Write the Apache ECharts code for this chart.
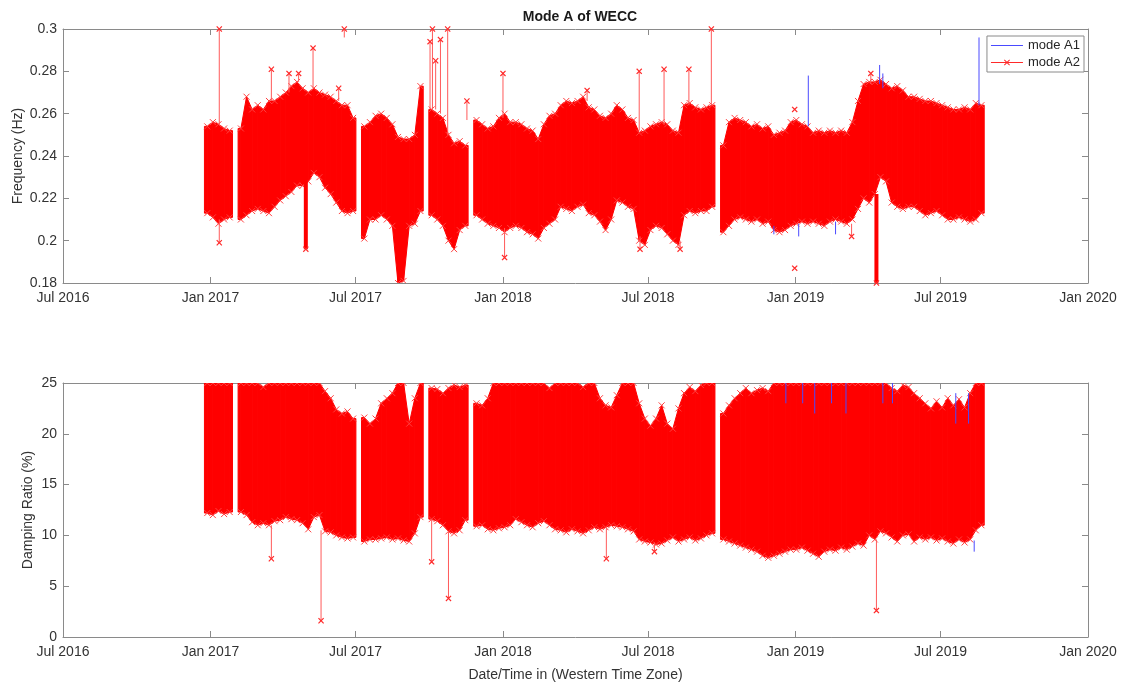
<!DOCTYPE html>
<html>
<head>
<meta charset="utf-8">
<title>Mode A of WECC</title>
<script src="https://cdn.jsdelivr.net/npm/echarts@6/dist/echarts.min.js"></script>
<style>
html,body{margin:0;padding:0;background:#fff;}
#chart{width:1124px;height:684px;}
</style>
</head>
<body>
<div id="chart"></div>
<script>
// weekly bins, first bin on 2016-12-28
var binStart = '2016-12-28';
var binDays = 7;

// mode A2 frequency envelope (Hz), null = no data
var freqHi = [0.254,0.256,0.255,0.253,0.252,null,0.253,0.268,0.262,0.264,0.262,0.266,0.266,0.268,0.270,0.273,0.275,0.272,0.270,0.272,
  0.270,0.269,0.268,0.266,0.264,0.264,0.258,null,0.254,0.256,0.259,0.260,0.258,0.255,0.249,0.248,0.248,0.250,0.273,null,
  0.262,0.260,0.258,0.250,0.246,0.247,0.245,null,0.257,0.255,0.253,0.254,0.258,0.260,0.256,0.256,0.255,0.253,0.252,0.248,
  0.255,0.259,0.260,0.264,0.266,0.265,0.266,0.268,0.263,0.262,0.259,0.258,0.260,0.264,0.262,0.258,0.257,0.251,0.252,0.254,
  0.255,0.256,0.255,0.252,0.251,0.264,0.265,0.263,0.262,0.263,0.264,null,0.245,0.256,0.258,0.257,0.256,0.254,0.255,0.253,
  0.254,0.250,0.251,0.252,0.256,0.257,0.255,0.254,0.251,0.252,0.251,0.252,0.251,0.252,0.251,0.256,0.266,0.274,0.275,0.275,
  0.276,0.274,0.272,0.273,0.271,0.268,0.268,0.267,0.266,0.266,0.265,0.264,0.263,0.262,0.262,0.263,0.262,0.265,0.264];
var freqLo = [0.213,0.211,0.208,0.210,0.211,null,0.210,0.212,0.214,0.215,0.214,0.213,0.216,0.219,0.221,0.223,0.226,0.226,0.228,0.232,
  0.230,0.225,0.222,0.218,0.214,0.213,0.214,null,0.201,0.210,0.210,0.212,0.210,0.207,0.180,0.181,0.207,0.208,0.214,null,
  0.212,0.210,0.207,0.200,0.196,0.205,0.207,null,0.212,0.210,0.208,0.207,0.206,0.204,0.206,0.207,0.206,0.204,0.203,0.201,
  0.206,0.208,0.210,0.216,0.215,0.214,0.216,0.217,0.213,0.212,0.209,0.205,0.210,0.219,0.218,0.216,0.215,0.200,0.198,0.205,
  0.207,0.206,0.203,0.200,0.198,0.212,0.214,0.213,0.214,0.214,0.216,null,0.204,0.207,0.210,0.211,0.210,0.209,0.210,0.208,
  0.209,0.205,0.204,0.205,0.207,0.208,0.209,0.208,0.209,0.208,0.207,0.209,0.210,0.209,0.208,0.210,0.215,0.220,0.218,0.222,
  0.230,0.228,0.218,0.216,0.215,0.216,0.216,0.214,0.212,0.213,0.214,0.212,0.210,0.210,0.211,0.210,0.209,0.210,0.213];

// mode A2 damping ratio envelope (%)
var dampHi = [25,25,25,25,25,null,25,25,25,25,24.6,25,25,25,25,25,25,25,25,25,
  25,24.2,23.5,22.4,22.0,22.2,21.5,null,21.6,21.0,21.5,23.0,23.5,24.0,25,25,21.0,23.5,25,null,
  24.5,24.4,24.0,24.5,24.8,24.6,24.8,null,23.0,22.8,23.5,25,25,25,25,25,25,25,25,25,
  25,24.5,25,25,25,25,25,24.6,25,25,23.5,22.8,22.6,23.8,25,25,25,23.0,21.5,20.8,
  21.5,22.8,21.0,20.5,22.5,24.0,24.6,24.2,24.8,25,25,null,22.0,22.8,23.5,24.0,24.5,24.0,24.3,24.5,
  24.2,25,25,25,25,25,25,25,25,25,25,25,25,25,25,25,25,25,25,25,
  25,25,24.5,24.2,24.8,24.6,24.0,23.5,23.0,22.5,23.2,22.6,23.5,22.8,23.4,22.6,24.0,25,25];
var dampLo = [12.2,12.0,12.4,12.1,12.3,null,12.3,12.0,11.3,11.0,11.2,11.0,11.4,11.5,11.8,11.6,11.5,11.2,10.6,11.8,
  12.0,10.4,10.3,10.0,9.8,9.7,9.8,null,9.4,9.6,9.6,9.7,9.8,9.6,9.7,9.5,9.4,10.2,11.8,null,
  11.6,11.4,11.0,10.4,10.2,10.5,11.5,null,10.9,11.0,10.6,10.5,10.7,10.8,11.0,11.6,11.3,11.0,10.8,11.2,
  11.4,11.0,10.6,10.5,10.3,10.6,10.4,10.2,10.5,10.8,10.6,10.8,11.0,10.9,10.8,10.6,10.4,9.6,9.4,9.3,
  9.1,9.2,9.5,9.8,9.4,9.6,9.8,9.5,9.7,10.0,10.2,null,9.6,9.4,9.2,9.0,8.8,8.6,8.4,8.0,
  7.8,8.0,8.2,8.4,8.6,8.6,8.8,8.5,8.2,7.9,8.4,8.6,8.5,8.8,8.6,8.9,9.2,9.0,10.0,9.6,
  10.4,10.2,9.8,9.4,10.0,10.1,9.4,9.8,9.6,9.8,9.5,9.7,9.4,9.2,9.6,9.3,9.6,10.5,11.0];

// mode A2 outliers: date, edge of band, value reached
var freqSpikeDates = ['2017-01-12','2017-01-12','2017-03-18','2017-04-09','2017-04-21','2017-05-09','2017-06-10','2017-06-17',
  '2017-10-02','2017-10-05','2017-10-09','2017-10-15','2017-10-24','2017-11-17','2018-01-01','2018-01-03','2018-04-16',
  '2018-06-20','2018-06-21','2018-07-21','2018-08-10','2018-08-21','2018-09-18','2018-12-31','2018-12-31','2019-03-12','2019-04-05'];
var freqSpikeFrom = [0.255,0.210,0.266,0.270,0.275,0.272,0.266,0.296,
  0.262,0.262,0.262,0.260,0.250,0.257,0.258,0.206,0.266,
  0.252,0.202,0.255,0.200,0.264,0.264,0.187,0.262,0.208,0.274];
var freqSpikeTo = [0.300,0.199,0.281,0.279,0.279,0.291,0.272,0.300,
  0.294,0.300,0.285,0.295,0.300,0.266,0.279,0.192,0.271,
  0.280,0.196,0.281,0.196,0.281,0.300,0.187,0.262,0.202,0.279];
// short dense drops, drawn as narrow columns
var freqBurstDates = ['2017-04-30','2019-04-12'];
var freqBurstFrom = [0.232,0.222];
var freqBurstTo = [0.196,0.180];
var dampSpikeDates = ['2017-03-18','2017-05-19','2017-10-04','2017-10-25','2018-05-10','2018-07-09','2019-04-12'];
var dampSpikeFrom = [11.0,10.5,11.6,10.4,10.8,9.3,9.6];
var dampSpikeTo = [7.7,1.6,7.4,3.8,7.7,8.4,2.6];

// mode A1 where it shows past mode A2
var a1FreqDates = ['2018-12-05','2019-01-05','2019-01-17','2019-02-20','2019-04-16','2019-04-20','2019-08-18'];
var a1FreqFrom = [0.207,0.208,0.254,0.209,0.274,0.272,0.264];
var a1FreqTo = [0.203,0.202,0.278,0.203,0.283,0.279,0.296];
var a1DampDates = ['2018-12-20','2019-01-10','2019-01-25','2019-02-15','2019-03-05','2019-04-20','2019-05-02','2019-07-20','2019-08-05','2019-08-12'];
var a1DampFrom = [23,23,22,23,22,23,23,21,21,9.5];
var a1DampTo = [25,25,25,25,25,25,25,24,24,8.4];

var tickDates = ['2016-07-01','2017-01-01','2017-07-01','2018-01-01','2018-07-01','2019-01-01','2019-07-01','2020-01-01'];
var monthNames = ['Jan','Feb','Mar','Apr','May','Jun','Jul','Aug','Sep','Oct','Nov','Dec'];

function ts(s) {
    var p = s.split('-');
    return new Date(+p[0], +p[1] - 1, +p[2]).getTime();
}
var DAY = 86400000;
var xMin = ts(tickDates[0]), xMax = ts(tickDates[tickDates.length - 1]);
var ticks = tickDates.map(ts);

function bandData(hi, lo) {
    var t0 = ts(binStart), out = [];
    for (var i = 0; i < hi.length; i++) {
        if (hi[i] == null) continue;
        var hasPrev = i > 0 && hi[i - 1] != null ? 1 : 0;
        var hasNext = i < hi.length - 1 && hi[i + 1] != null ? 1 : 0;
        var t = t0 + i * binDays * DAY;
        out.push([t, lo[i], hi[i], t + binDays * DAY,
            hasNext ? lo[i + 1] : lo[i], hasNext ? hi[i + 1] : hi[i], hasPrev, hasNext]);
    }
    return out;
}
function stemData(dates, from, to, withMark) {
    var out = [];
    for (var i = 0; i < dates.length; i++) {
        var t = ts(dates[i]);
        out.push({value: [t, from[i]], symbol: 'none'});
        out.push(withMark ? {value: [t, to[i]]} : {value: [t, to[i]], symbol: 'none'});
        out.push({value: [t, '-'], symbol: 'none'});
    }
    return out;
}

var xShape = 'path://M0,1.4L1.4,0L5,3.6L8.6,0L10,1.4L6.4,5L10,8.6L8.6,10L5,6.4L1.4,10L0,8.6L3.6,5Z';
// legend icons, drawn in a 32x8 box
var iconA1 = 'path://M0,3.5L32,3.5L32,4.5L0,4.5Z';
var iconA2 = 'path://M0,3.5L32,3.5L32,4.5L0,4.5Z M13,1.7L13.7,1L16,3.3L18.3,1L19,1.7L16.7,4L19,6.3L18.3,7L16,4.7L13.7,7L13,6.3L15.3,4Z';

function xMark(p, out) {
    var s = 3, st = {stroke: '#ff4040', lineWidth: 1};
    out.push({type: 'line', shape: {x1: p[0] - s, y1: p[1] - s, x2: p[0] + s, y2: p[1] + s}, style: st});
    out.push({type: 'line', shape: {x1: p[0] - s, y1: p[1] + s, x2: p[0] + s, y2: p[1] - s}, style: st});
}
function renderBand(params, api) {
    var t = api.value(0), lo = api.value(1), hi = api.value(2);
    var tn = api.value(3), lon = api.value(4), hin = api.value(5);
    var hasPrev = api.value(6), hasNext = api.value(7);
    var half = binDays * DAY / 2;
    var st = {fill: '#ff0000', stroke: '#ff0000', lineWidth: 1};
    var kids = [];
    var a = api.coord([t, hi]), b = api.coord([t, lo]);
    if (hasNext) {
        kids.push({type: 'polygon', shape: {points: [a, api.coord([tn, hin]), api.coord([tn, lon]), b]}, style: st});
    } else {
        kids.push({type: 'polygon', shape: {points: [a, api.coord([t + half, hi]), api.coord([t + half, lo]), b]}, style: st});
    }
    if (!hasPrev) {
        kids.push({type: 'polygon', shape: {points: [api.coord([t - half, hi]), a, b, api.coord([t - half, lo])]}, style: st});
    }
    xMark(a, kids);
    xMark(b, kids);
    return {type: 'group', children: kids};
}

var axisGray = '#8a8a8a';
var labelColor = '#333';
function xAxisDef(grid, pos, name) {
    return {
        type: 'value', gridIndex: grid, position: pos, min: xMin, max: xMax, scale: true,
        name: name || '', nameLocation: 'middle', nameGap: 31, nameMoveOverlap: false,
        nameTextStyle: {fontSize: 14, color: labelColor, fontFamily: 'Liberation Sans'},
        axisLine: {show: true, onZero: false, lineStyle: {color: axisGray}},
        axisTick: {show: true, inside: true, length: 6, customValues: ticks, lineStyle: {color: axisGray}},
        axisLabel: {
            show: pos === 'bottom', customValues: ticks, margin: 8, fontSize: 14, color: labelColor,
            fontFamily: 'Liberation Sans', showMinLabel: true, showMaxLabel: true,
            formatter: function (v) { var d = new Date(v); return monthNames[d.getMonth()] + ' ' + d.getFullYear(); }
        },
        splitLine: {show: false}
    };
}
function yAxisDef(grid, pos, min, max, step, name, gap) {
    return {
        type: 'value', gridIndex: grid, position: pos, min: min, max: max, interval: step,
        name: name || '', nameLocation: 'middle', nameGap: gap || 30, nameRotate: 90, nameMoveOverlap: false,
        nameTextStyle: {fontSize: 14, color: labelColor, fontFamily: 'Liberation Sans'},
        axisLine: {show: true, lineStyle: {color: axisGray}},
        axisTick: {show: true, inside: true, length: 6, lineStyle: {color: axisGray}},
        axisLabel: {show: pos === 'left', margin: 6, fontSize: 14, color: labelColor, fontFamily: 'Liberation Sans'},
        splitLine: {show: false}
    };
}

function stemSeries(name, xi, yi, data, color, width, mark) {
    return {
        name: name, type: 'line', xAxisIndex: xi, yAxisIndex: yi, z: mark ? 3 : 4,
        data: data, symbol: mark ? xShape : 'none', symbolSize: 6, connectNulls: false,
        lineStyle: {color: color, width: width}, itemStyle: {color: mark ? '#ff2a2a' : color}
    };
}

var myChart = echarts.init(document.getElementById('chart'));
var option = {
    animation: false,
    backgroundColor: '#fff',
    title: {
        text: 'Mode A of WECC', left: 575, top: 5, textAlign: 'center',
        textStyle: {fontSize: 14, fontWeight: 'bold', color: '#1a1a1a', fontFamily: 'Liberation Sans'}
    },
    legend: {
        data: [{name: 'mode A1', icon: iconA1}, {name: 'mode A2', icon: iconA2}],
        orient: 'vertical', right: 40, top: 36,
        backgroundColor: '#fff', borderColor: '#8a8a8a', borderWidth: 1, borderRadius: 0,
        padding: [3, 4, 3, 4], itemGap: 4, itemWidth: 32, itemHeight: 8,
        textStyle: {fontSize: 13, color: '#262626', fontFamily: 'Liberation Sans'}
    },
    grid: [
        {left: 63, right: 36, top: 29, height: 254, outerBoundsMode: 'none'},
        {left: 63, right: 36, top: 383, height: 254, outerBoundsMode: 'none'}
    ],
    xAxis: [
        xAxisDef(0, 'bottom'), xAxisDef(0, 'top'),
        xAxisDef(1, 'bottom', 'Date/Time in (Western Time Zone)'), xAxisDef(1, 'top')
    ],
    yAxis: [
        yAxisDef(0, 'left', 0.18, 0.3, 0.02, 'Frequency (Hz)', 38), yAxisDef(0, 'right', 0.18, 0.3, 0.02),
        yAxisDef(1, 'left', 0, 25, 5, 'Damping Ratio (%)', 28), yAxisDef(1, 'right', 0, 25, 5)
    ],
    series: [
        stemSeries('mode A2', 0, 0, stemData(freqSpikeDates, freqSpikeFrom, freqSpikeTo, true), '#ff5a5a', 1, true),
        {
            name: 'mode A2', type: 'custom', xAxisIndex: 0, yAxisIndex: 0, clip: true, z: 2,
            renderItem: renderBand, data: bandData(freqHi, freqLo), itemStyle: {color: '#ff0000'}
        },
        stemSeries('mode A2', 0, 0, stemData(freqBurstDates, freqBurstFrom, freqBurstTo, true), '#ff0000', 4, true),
        stemSeries('mode A1', 0, 0, stemData(a1FreqDates, a1FreqFrom, a1FreqTo, false), '#4a4aff', 1, false),
        stemSeries('mode A2', 2, 2, stemData(dampSpikeDates, dampSpikeFrom, dampSpikeTo, true), '#ff5a5a', 1, true),
        {
            name: 'mode A2', type: 'custom', xAxisIndex: 2, yAxisIndex: 2, clip: true, z: 2,
            renderItem: renderBand, data: bandData(dampHi, dampLo), itemStyle: {color: '#ff0000'}
        },
        stemSeries('mode A1', 2, 2, stemData(a1DampDates, a1DampFrom, a1DampTo, false), '#4a4aff', 1, false)
    ]
};
myChart.setOption(option);
</script>
</body>
</html>
